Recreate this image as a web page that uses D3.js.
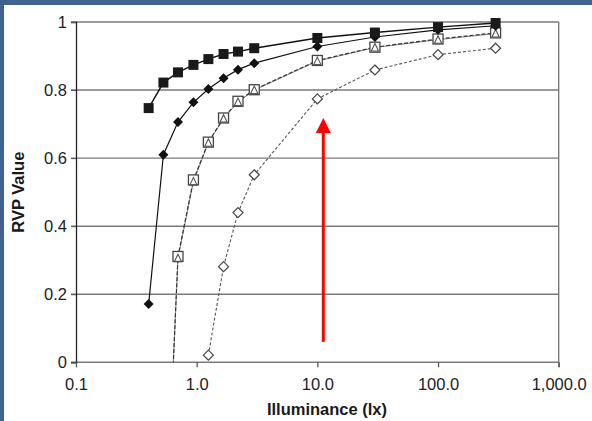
<!DOCTYPE html>
<html>
<head>
<meta charset="utf-8">
<script src="https://cdn.jsdelivr.net/npm/d3@7"></script>
<style>
  html, body { margin: 0; padding: 0; background: #fff; }
  svg { display: block; }
  text { font-family: "Liberation Sans", Arial, sans-serif; }
</style>
</head>
<body>
<svg id="chart" width="592" height="421"></svg>
<script>
// Illuminance levels (lx) shared by all curves
const lux = [0.4, 0.53, 0.7, 0.94, 1.25, 1.67, 2.2, 3, 10, 30, 100, 300];

// RVP values per curve (null = not measured)
const rvpFilledSquare  = [0.747, 0.822, 0.852, 0.874, 0.891, 0.906, 0.913, 0.923, 0.953, 0.969, 0.985, 0.997];
const rvpFilledDiamond = [0.171, 0.610, 0.706, 0.764, 0.803, 0.835, 0.860, 0.879, 0.928, 0.956, 0.977, 0.989];
const rvpOpenSquare    = [null, -0.66, 0.311, 0.536, 0.647, 0.718, 0.767, 0.801, 0.887, 0.926, 0.950, 0.968];
const rvpOpenTriangle  = [null, -0.66, 0.306, 0.531, 0.645, 0.716, 0.765, 0.800, 0.885, 0.925, 0.948, 0.966];
const rvpOpenDiamond   = [null, null, null, null, 0.021, 0.281, 0.440, 0.551, 0.774, 0.859, 0.904, 0.923];

// Axis ticks
const xTicks = [0.1, 1, 10, 100, 1000];
const xTickLabels = ["0.1", "1.0", "10.0", "100.0", "1,000.0"];
const yTicks = [0, 0.2, 0.4, 0.6, 0.8, 1];
const yTickLabels = ["0", "0.2", "0.4", "0.6", "0.8", "1"];

// Arrow annotation (lux, from RVP, to RVP)
const arrowLux = 11.2;
const arrowFrom = 0.06;
const arrowTo = 0.718;

const svg = d3.select("#chart");
const W = 592, H = 421;
const m = { left: 76, right: 33.3, top: 22, bottom: 58.7 };

svg.append("rect").attr("width", W).attr("height", H).attr("fill", "#fff");
// slide frame
svg.append("rect").attr("x", 0).attr("y", 0).attr("width", W).attr("height", 5).attr("fill", "#41628f");
svg.append("rect").attr("x", 0).attr("y", 0).attr("width", 4).attr("height", H).attr("fill", "#41628f");

const x = d3.scaleLog().domain([0.1, 1000]).range([m.left, W - m.right]);
const y = d3.scaleLinear().domain([0, 1]).range([H - m.bottom, m.top]);

// gridlines
svg.append("g").selectAll("line").data(yTicks).join("line")
  .attr("x1", m.left - 5).attr("x2", W - m.right)
  .attr("y1", d => y(d)).attr("y2", d => y(d))
  .attr("stroke", "#7a7a7a").attr("stroke-width", 1.4);

// right frame
svg.append("line").attr("x1", W - m.right).attr("x2", W - m.right)
  .attr("y1", y(1)).attr("y2", y(0) + 5)
  .attr("stroke", "#7a7a7a").attr("stroke-width", 1.4);

// y axis
const yAxis = d3.axisLeft(y).tickValues(yTicks).tickSize(5)
  .tickFormat((d, i) => yTickLabels[i]);
const gy = svg.append("g").attr("transform", `translate(${m.left},0)`).call(yAxis);
gy.select(".domain").attr("stroke", "#222").attr("stroke-width", 1.3);
gy.selectAll(".tick line").attr("stroke", "#555");
gy.selectAll("text").attr("font-size", 16.5).attr("fill", "#222").attr("x", -9)
  .attr("font-family", "'Liberation Sans', Arial, sans-serif");

// x axis
const xAxis = d3.axisBottom(x).tickValues(xTicks).tickSize(5)
  .tickFormat((d, i) => xTickLabels[i]);
const gx = svg.append("g").attr("transform", `translate(0,${y(0)})`).call(xAxis);
gx.select(".domain").remove();
gx.selectAll(".tick line").attr("stroke", "#555").attr("stroke-width", 1.3);
gx.selectAll("text").attr("font-size", 16.5).attr("fill", "#222").attr("y", 16)
  .attr("font-family", "'Liberation Sans', Arial, sans-serif");

// axis titles
svg.append("text").attr("x", 327).attr("y", 415).attr("text-anchor", "middle")
  .attr("font-size", 16.5).attr("font-weight", "bold").attr("fill", "#1a1a1a")
  .text("Illuminance (lx)");
svg.append("text").attr("transform", `translate(24,${(y(0) + y(1)) / 2}) rotate(-90)`)
  .attr("text-anchor", "middle")
  .attr("font-size", 16.5).attr("font-weight", "bold").attr("fill", "#1a1a1a")
  .text("RVP Value");

// clip to plot area
svg.append("clipPath").attr("id", "plot").append("rect")
  .attr("x", m.left).attr("y", m.top - 10).attr("width", W - m.left - m.right)
  .attr("height", y(0) - m.top + 10);

const plot = svg.append("g").attr("clip-path", "url(#plot)");

const series = [
  { vals: rvpOpenDiamond,   stroke: "#555",  width: 1.1, dash: "3,2" },
  { vals: rvpOpenTriangle,  stroke: "#888",  width: 1.0, dash: null },
  { vals: rvpOpenSquare,    stroke: "#333",  width: 1.2, dash: "4,2" },
  { vals: rvpFilledDiamond, stroke: "#111",  width: 1.2, dash: null },
  { vals: rvpFilledSquare,  stroke: "#111",  width: 1.4, dash: null }
];

const line = d3.line()
  .defined(d => d.v !== null)
  .x(d => x(d.lx)).y(d => y(d.v));

series.forEach(s => {
  const pts = lux.map((lx, i) => ({ lx, v: s.vals[i] }));
  plot.append("path").datum(pts)
    .attr("d", line).attr("fill", "none")
    .attr("stroke", s.stroke).attr("stroke-width", s.width)
    .attr("stroke-dasharray", s.dash);
});

function pts(vals) {
  return lux.map((lx, i) => ({ lx, v: vals[i] })).filter(d => d.v !== null && d.v >= 0);
}

// open diamonds
plot.append("g").selectAll("path").data(pts(rvpOpenDiamond)).join("path")
  .attr("transform", d => `translate(${x(d.lx)},${y(d.v)})`)
  .attr("d", "M0,-5L5,0L0,5L-5,0Z")
  .attr("fill", "#fff").attr("stroke", "#444").attr("stroke-width", 1.2);

// open squares
plot.append("g").selectAll("rect").data(pts(rvpOpenSquare)).join("rect")
  .attr("x", d => x(d.lx) - 5).attr("y", d => y(d.v) - 5)
  .attr("width", 10).attr("height", 10)
  .attr("fill", "#fff").attr("stroke", "#444").attr("stroke-width", 1.3);

// open triangles
plot.append("g").selectAll("path").data(pts(rvpOpenTriangle)).join("path")
  .attr("transform", d => `translate(${x(d.lx)},${y(d.v)})`)
  .attr("d", "M0,-4L3.6,3.5L-3.6,3.5Z")
  .attr("fill", "none").attr("stroke", "#555").attr("stroke-width", 1.1);

// filled diamonds
plot.append("g").selectAll("path").data(pts(rvpFilledDiamond)).join("path")
  .attr("transform", d => `translate(${x(d.lx)},${y(d.v)})`)
  .attr("d", "M0,-5L5,0L0,5L-5,0Z")
  .attr("fill", "#111");

// filled squares
plot.append("g").selectAll("rect").data(pts(rvpFilledSquare)).join("rect")
  .attr("x", d => x(d.lx) - 5).attr("y", d => y(d.v) - 5)
  .attr("width", 10).attr("height", 10)
  .attr("fill", "#1a1a1a");

// red arrow
const ax = x(arrowLux);
svg.append("line").attr("x1", ax).attr("x2", ax)
  .attr("y1", y(arrowFrom)).attr("y2", y(arrowTo) + 14)
  .attr("stroke", "#ff0000").attr("stroke-width", 3);
svg.append("path")
  .attr("d", `M${ax},${y(arrowTo)}L${ax + 7.5},${y(arrowTo) + 15}L${ax - 7.5},${y(arrowTo) + 15}Z`)
  .attr("fill", "#ff0000");
</script>
</body>
</html>
